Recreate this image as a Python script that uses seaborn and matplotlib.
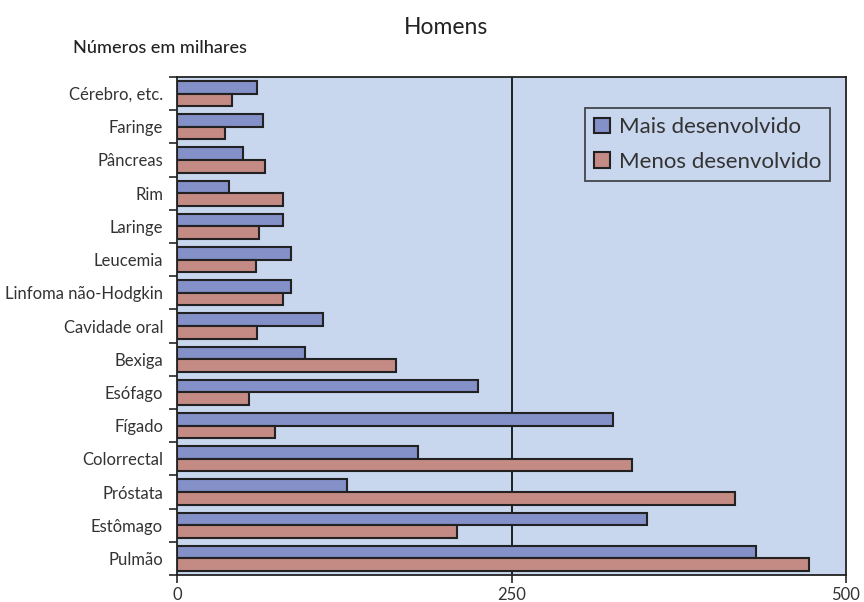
import numpy as np
import pandas as pd
import seaborn as sns
import matplotlib.pyplot as plt

# Data (thousands of cases, men)
tipos = ["Cérebro, etc.", "Faringe", "Pâncreas", "Rim", "Laringe", "Leucemia",
         "Linfoma não-Hodgkin", "Cavidade oral", "Bexiga", "Esófago", "Fígado",
         "Colorrectal", "Próstata", "Estômago", "Pulmão"]
mais = [60, 64, 49, 39, 79, 85, 85, 109, 96, 225, 326, 180, 127, 351, 433]
menos = [41, 36, 66, 79, 61, 59, 79, 60, 164, 54, 73, 340, 417, 209, 472]
grupos = ["Mais desenvolvido", "Menos desenvolvido"]

df = pd.DataFrame({
    "Tipo": tipos * 2,
    "Valor": mais + menos,
    "Grupo": [grupos[0]] * len(tipos) + [grupos[1]] * len(tipos),
})

sns.set_style("white")
plt.rcParams['font.family'] = ['Lato', 'DejaVu Sans']

fig = plt.figure(figsize=(8.64, 6.02), dpi=100)
ax = fig.add_axes([177 / 864, 27 / 602, 669 / 864, 498 / 602])
ax.set_facecolor("#C8D6EE")

sns.barplot(data=df, y="Tipo", x="Valor", hue="Grupo", hue_order=grupos,
            order=tipos, orient="h", width=0.76, ax=ax,
            palette=["#8490C8", "#C48A84"], edgecolor="#222222", linewidth=1.5,
            saturation=1)

ax.axvline(250, color="black", lw=1.2, zorder=0.5)
ax.set_xlim(0, 500)
ax.set_ylim(len(tipos) - 0.5, -0.5)
ax.set_xticks([0, 250, 500])
ax.set_xticklabels(["0", "250", "500"], fontsize=12, color="#333333")
ax.set_yticks(np.arange(len(tipos)))
ax.set_yticklabels(tipos, fontsize=12, color="#333333")
ax.set_yticks(np.arange(len(tipos) + 1) - 0.5, minor=True)
ax.tick_params(axis="y", which="major", length=0, pad=10)
ax.tick_params(axis="y", which="minor", length=6, width=1.2, direction="out", left=True)
ax.tick_params(axis="x", length=6, width=1.2, direction="out", bottom=True, pad=3)
ax.set_xlabel("")
ax.set_ylabel("")
for s in ax.spines.values():
    s.set_color("#222222")
    s.set_linewidth(1.3)

leg = ax.legend(loc="upper right", bbox_to_anchor=(0.976, 0.937), fontsize=16,
                frameon=True, fancybox=False, edgecolor="#222222",
                handlelength=0.7, handleheight=0.7, handletextpad=0.4,
                labelspacing=0.65, borderpad=0.4, borderaxespad=0)
leg.get_frame().set_facecolor("#C8D6EE")
leg.get_frame().set_linewidth(1.3)
for t in leg.get_texts():
    t.set_color("#333333")

fig.text(446 / 864, 1 - 27 / 602, "Homens", ha="center", va="center", fontsize=16.5, color="#222222")
fig.text(73 / 864, 1 - 48 / 602, "Números em milhares", ha="left", va="center", fontsize=13,
         fontweight="medium", color="#222222")

fig.savefig("out.png", dpi=100)
